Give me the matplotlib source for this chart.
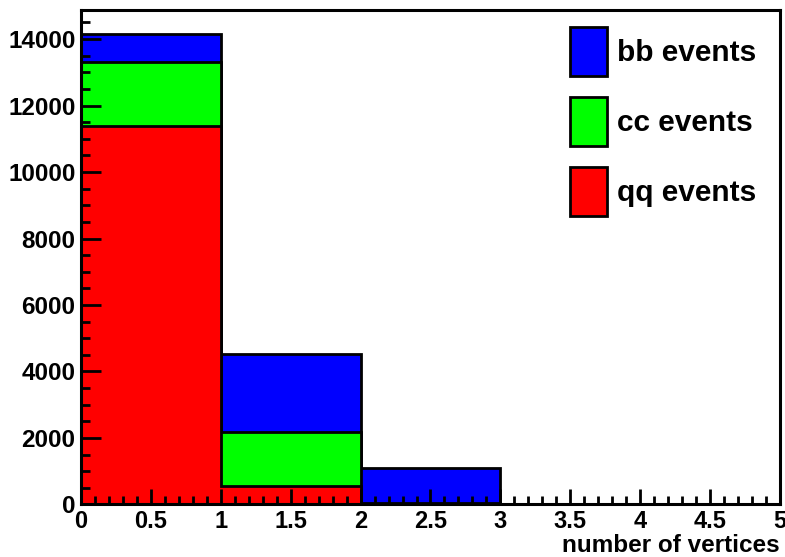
import numpy as np
import matplotlib
matplotlib.use("Agg")
import matplotlib.pyplot as plt
from matplotlib.patches import Patch
from matplotlib.ticker import MultipleLocator, FormatStrFormatter

# histogram bins (number of vertices) and per-flavour counts
edges = [0, 1, 2, 3, 4, 5]
qq = [11390, 565, 15, 0, 0]
cc = [1910, 1620, 25, 0, 0]
bb = [850, 2355, 1070, 0, 0]
labels = ["bb events", "cc events", "qq events"]
colors = ["#0000ff", "#00ff00", "#ff0000"]

plt.rcParams['font.family'] = ['Liberation Sans', 'DejaVu Sans']
plt.rcParams['font.weight'] = 'bold'

fig = plt.figure(figsize=(7.85, 5.57), dpi=100)
ax = fig.add_axes([0.1032, 0.0943, 0.8904, 0.8869])

# stacked: draw the total first, then the lower layers on top
lvl_qq = np.array(qq)
lvl_cc = lvl_qq + np.array(cc)
lvl_bb = lvl_cc + np.array(bb)
for vals, col in zip([lvl_bb, lvl_cc, lvl_qq], colors):
    ax.stairs(vals, edges, fill=True, facecolor=col, edgecolor='none')
    ax.stairs(vals, edges, color='black', linewidth=2)

ax.set_xlim(0, 5)
ax.set_ylim(0, 14860)

# ROOT-like axes: inward ticks only on bottom/left
ax.set_axisbelow(False)
ax.xaxis.set_major_locator(MultipleLocator(0.5))
ax.xaxis.set_minor_locator(MultipleLocator(0.1))
ax.yaxis.set_major_locator(MultipleLocator(2000))
ax.yaxis.set_minor_locator(MultipleLocator(500))
ax.xaxis.set_major_formatter(FormatStrFormatter('%g'))
ax.tick_params(axis='x', which='major', direction='in', length=10.8, width=2,
               labelsize=17, pad=4)
ax.tick_params(axis='x', which='minor', direction='in', length=5.5, width=2)
ax.tick_params(axis='y', which='major', direction='in', length=14.4, width=2,
               labelsize=17.5, pad=4)
ax.tick_params(axis='y', which='minor', direction='in', length=6.5, width=2)
for loc in ['left', 'right', 'top', 'bottom']:
    ax.spines[loc].set_linewidth(2.2)

ax.set_xlabel('number of vertices', loc='right', fontsize=17.5,
              fontweight='bold', labelpad=1)

handles = [Patch(facecolor=c, edgecolor='black', linewidth=2) for c in colors]
ax.legend(handles, labels, loc='upper left', bbox_to_anchor=(0.6996, 0.9666),
          frameon=False, fontsize=21.5, handlelength=1.24, handleheight=2.15,
          handletextpad=0.34, labelspacing=0.7, borderpad=0, borderaxespad=0)

fig.savefig('out.png', dpi=100)
